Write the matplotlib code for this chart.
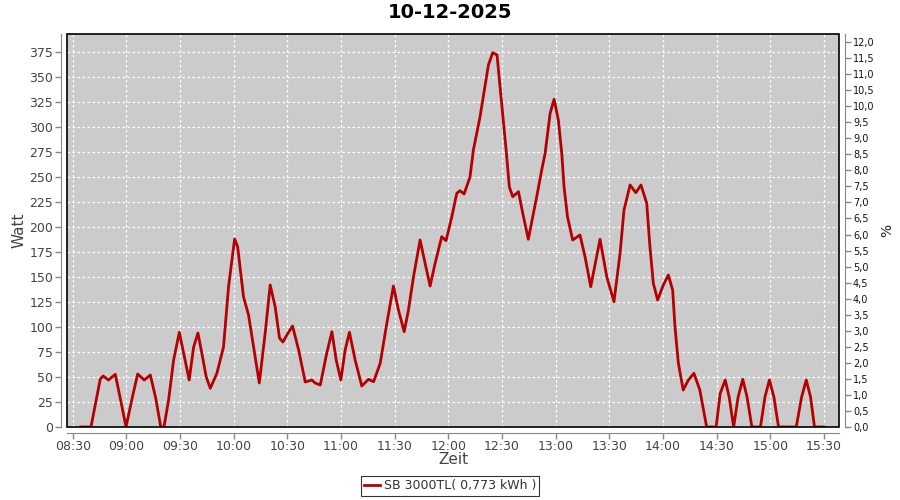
import matplotlib
matplotlib.use("Agg")
import matplotlib.pyplot as plt
import matplotlib.dates as mdates
from matplotlib.patches import Rectangle
import pandas as pd

# readings of the SB 3000TL, minutes after 08:30 and power in W
minutes = [4.6, 10.2, 15.4, 17, 20, 23.8, 27, 29.8, 33, 36.3, 40, 43.4, 46.5, 49.2, 51,
           53.6, 56.4, 59.6, 62, 65.1, 67.6, 70, 72.2, 74.6, 76.9, 80.6, 84.3, 87.1, 90.5,
           92.2, 95.5, 98.3, 101.1, 104.3, 107.6, 110.4, 113.2, 115.6, 117.5, 120.3, 122.9,
           126.3, 130, 133.7, 135.5, 138.4, 142, 144.9, 147.3, 149.9, 152.3, 154.7, 157.9,
           161.6, 165.4, 168.2, 171.9, 175.6, 179.3, 182.1, 185.3, 187.7, 190.5, 194.2, 197,
           199.8, 202.6, 206.3, 208.7, 211.9, 214.7, 216.5, 218.8, 222.1, 224, 227.7, 232.4,
           234.8, 237.2, 238, 239.8, 242.3, 244.1, 246, 249.2, 251.6, 254.7, 259.4, 262.2,
           264.1, 266.9, 269.1, 271.5, 273.4, 274.7, 276.6, 279.5, 283.6, 286.4, 289.6, 294.8,
           298.6, 302.6, 306, 308.2, 311.6, 314.8, 317.7, 320.9, 322.7, 324.6, 327, 330.2,
           333, 335.4, 336.7, 338.6, 341.3, 344.2, 347.3, 350.6, 354.4, 359.7, 362, 364.8,
           367, 369.5, 372, 374.6, 377, 379.7, 384.5, 387, 389.5, 392, 394.6, 404.5, 407.5,
           410.1, 412.5, 414.7, 420]
watt = [0, 0, 48, 51, 47, 52.7, 25, 0, 27, 53, 47, 52, 28, 0, 0,
        27, 67, 94.7, 74, 47, 80, 94, 73.7, 50.3, 38.7, 53.7, 80, 140, 188,
        180.3, 130, 112, 80, 44, 94, 142, 120, 89, 85, 93.7, 101,
        77, 45, 47, 44, 42, 73.7, 95.3, 67, 47, 77, 94.7, 67,
        41, 47.7, 45.3, 63.7, 103.7, 141, 117, 95.3, 117, 150, 187, 163.7,
        141, 163.7, 190.3, 186.3, 210, 233.7, 236.3, 233, 250, 277, 310, 362,
        374.3, 372, 357, 323.7, 277, 240, 230.3, 235.3, 213.7, 187.7, 230.3, 257,
        273.7, 313.7, 327.7, 307, 273.7, 240, 210.3, 187, 192, 170.3, 140.3, 187.7,
        150, 125.3, 173.7, 217, 242, 234.3, 242, 223.7, 180.3, 143.7, 127, 142,
        152, 137, 100.3, 63.7, 37, 47, 53.7, 37, 0, 0, 33.7, 47,
        30, 0, 30, 47.7, 30, 0, 0, 30, 47, 30, 0, 0, 30,
        47, 30, 0, 0]

series_label = "SB 3000TL( 0,773 kWh )"
title = "10-12-2025"

start = pd.Timestamp("2025-12-10 08:30")
times = [start + pd.Timedelta(minutes=m) for m in minutes]

fig = plt.figure(figsize=(9, 5), dpi=100)
ax = fig.add_axes([67 / 900, 1 - 427 / 500, 772 / 900, 393 / 500])
ax.set_facecolor("#cbcbcb")

ax.plot(times, watt, color="#b40000", lw=2, zorder=2, solid_joinstyle="round")

ax.set_xlim(start - pd.Timedelta(minutes=3.2), start + pd.Timedelta(minutes=428.4))
ax.set_ylim(0, 393)
ax.set_yticks(range(0, 376, 25))
ax.xaxis.set_major_locator(mdates.MinuteLocator(byminute=[0, 30]))
ax.xaxis.set_major_formatter(mdates.DateFormatter("%H:%M"))

ax.grid(True, color="white", ls=(0, (2, 2)), lw=0.9)
ax.set_axisbelow(True)

grey = "#888888"
for side in ("left", "bottom"):
    ax.spines[side].set_position(("outward", 4))
    ax.spines[side].set_color(grey)
for side in ("top", "right"):
    ax.spines[side].set_visible(False)
ax.add_patch(Rectangle((0, 0), 1, 1, transform=ax.transAxes, fill=False,
                       ec="black", lw=1.2, zorder=5, clip_on=False))
ax.tick_params(axis="both", colors=grey, length=4, width=1,
               labelsize=9, labelcolor="#444444", pad=2)
ax.tick_params(axis="x", pad=1)

ax.set_ylabel("Watt", fontsize=11, color="#444444", labelpad=2)
ax.set_xlabel("Zeit", fontsize=11, color="#444444", labelpad=0)

ax2 = ax.twinx()
ax2.set_ylim(0, 393 / 32.08)
ax2.set_yticks([i * 0.5 for i in range(25)])
ax2.set_yticklabels([f"{i * 0.5:.1f}".replace(".", ",") for i in range(25)])
for side in ("left", "bottom", "top"):
    ax2.spines[side].set_visible(False)
ax2.spines["right"].set_position(("outward", 4))
ax2.spines["right"].set_color(grey)
ax2.tick_params(axis="y", colors=grey, length=4, width=1, labelsize=7,
                labelcolor="#111111", pad=2)
ax2.set_ylabel("%", fontsize=10, color="#222222", labelpad=4)

fig.text(0.5, 1 - 13 / 500, title, fontsize=14, fontweight="bold",
         ha="center", va="center")

handle = plt.Line2D([], [], color="#b40000", lw=2)
leg = fig.legend([handle], [series_label], loc="center", bbox_to_anchor=(0.5, 0.028),
                 fontsize=9, frameon=True, fancybox=False, edgecolor="black",
                 handlelength=1.3, handletextpad=0.3, borderpad=0.25, borderaxespad=0)
leg.get_frame().set_linewidth(0.8)
for t in leg.get_texts():
    t.set_color("#333333")

fig.savefig("out.png", dpi=100)
